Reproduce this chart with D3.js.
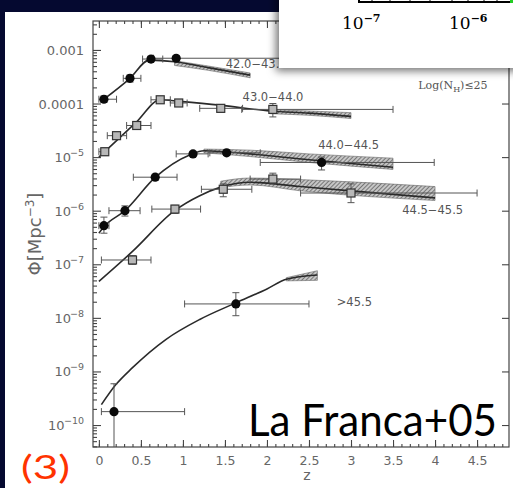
<!DOCTYPE html>
<html>
<head>
<meta charset="utf-8">
<script src="https://cdn.jsdelivr.net/npm/d3@7"></script>
<style>
html, body { margin: 0; padding: 0; background: #050930; }
svg { display: block; }
</style>
</head>
<body>
<svg id="chart" width="513" height="488"></svg>
<script>
// luminosity bins, log10(phi) vs z
const binLabels = ['42.0\u221243.0', '43.0\u221244.0', '44.0\u221244.5', '44.5\u221245.5', '>45.5'];

// 42.0-43.0 (filled circles)
const z1 = [0.06, 0.37, 0.62, 0.92];
const lp1 = [-3.92, -3.53, -3.17, -3.155];
const zlo1 = [0.0, 0.29, 0.52, 0.65];
const zhi1 = [0.21, 0.5, 0.76, 2.3];
const elo1 = [-3.98, -3.6, -3.22, -3.2];
const ehi1 = [-3.86, -3.47, -3.12, -3.11];

// 43.0-44.0 (open squares)
const z2 = [0.07, 0.21, 0.45, 0.73, 0.95, 1.45, 2.07];
const lp2 = [-4.9, -4.6, -4.41, -3.93, -3.99, -4.09, -4.11];
const zlo2 = [0.0, 0.1, 0.33, 0.62, 0.85, 1.2, 1.7];
const zhi2 = [0.1, 0.33, 0.62, 0.85, 1.05, 1.71, 3.5];
const elo2 = [-4.97, -4.66, -4.48, -3.97, -4.05, -4.16, -4.25];
const ehi2 = [-4.83, -4.54, -4.34, -3.89, -3.93, -4.03, -4.0];

// 44.0-44.5 (filled circles)
const z3 = [0.06, 0.31, 0.67, 1.12, 1.52, 2.65];
const lp3 = [-6.28, -6.0, -5.375, -4.94, -4.92, -5.1];
const zlo3 = [0.0, 0.12, 0.41, 0.92, 1.32, 1.92];
const zhi3 = [0.12, 0.49, 0.93, 1.3, 1.92, 3.99];
const elo3 = [-6.42, -6.1, -5.43, -4.98, -4.97, -5.24];
const ehi3 = [-6.12, -5.91, -5.32, -4.9, -4.87, -5.0];

// 44.5-45.5 (open squares)
const z4 = [0.4, 0.905, 1.48, 2.07, 3.0];
const lp4 = [-6.92, -5.97, -5.6, -5.41, -5.67];
const zlo4 = [0.03, 0.63, 1.22, 1.8, 2.4];
const zhi4 = [0.62, 1.21, 1.82, 2.4, 4.5];
const elo4 = [-7.0, -6.05, -5.74, -5.5, -5.85];
const ehi4 = [-6.84, -5.9, -5.5, -5.3, -5.5];

// >45.5 (filled circles)
const z5 = [0.18, 1.63];
const lp5 = [-9.75, -7.74];
const zlo5 = [0.03, 1.02];
const zhi5 = [1.02, 2.5];
const elo5 = [-10.6, -7.96];
const ehi5 = [-9.23, -7.53];

// model curves [z, log phi]
const model1 = [[0.06, -3.92], [0.37, -3.53], [0.6, -3.19], [0.9, -3.22], [1.3, -3.33], [1.8, -3.47]];
const model2 = [[0, -5.0], [0.22, -4.68], [0.45, -4.34], [0.73, -3.93], [0.96, -3.96], [1.44, -4.03], [2.04, -4.14], [2.5, -4.18], [3.0, -4.24]];
const model3 = [[0, -6.42], [0.06, -6.3], [0.31, -6.0], [0.67, -5.38], [1.08, -4.96], [1.25, -4.88], [1.5, -4.9], [1.8, -4.94], [2.5, -5.05], [3.5, -5.19]];
const model4 = [[0, -7.32], [0.4, -6.76], [0.9, -6.0], [1.2, -5.72], [1.45, -5.56], [1.8, -5.47], [2.4, -5.55], [3.0, -5.63], [4.0, -5.76]];
const model5 = [[0.03, -9.62], [0.2, -9.25], [0.4, -8.93], [0.8, -8.4], [1.2, -8.03], [1.63, -7.72], [2.0, -7.46], [2.23, -7.28], [2.6, -7.2]];

// hatched uncertainty bands [z, lo, hi]
const band1 = [[0.9, -3.29, -3.2], [1.3, -3.38, -3.3], [1.8, -3.52, -3.43]];
const band2 = [[2.04, -4.19, -4.11], [2.5, -4.22, -4.14], [3.0, -4.28, -4.17]];
const band3 = [[1.25, -4.92, -4.85], [1.8, -4.99, -4.87], [2.5, -5.1, -4.94], [3.5, -5.23, -5.02]];
const band4 = [[1.45, -5.57, -5.45], [1.8, -5.52, -5.39], [2.4, -5.63, -5.42], [4.0, -5.81, -5.55]];
const band5 = [[2.23, -7.31, -7.25], [2.6, -7.3, -7.12]];

// axis ticks
const xTicks = [0, 0.5, 1, 1.5, 2, 2.5, 3, 3.5, 4, 4.5];
const yDecades = [-3, -4, -5, -6, -7, -8, -9, -10];
const yTickLabels = [['0.001', ''], ['0.0001', ''], ['10', '\u22125'], ['10', '\u22126'], ['10', '\u22127'], ['10', '\u22128'], ['10', '\u22129'], ['10', '\u221210']];

const svg = d3.select('#chart');
const defs = svg.append('defs');

const pat = defs.append('pattern')
    .attr('id', 'hatch')
    .attr('width', 3)
    .attr('height', 3)
    .attr('patternUnits', 'userSpaceOnUse')
    .attr('patternTransform', 'rotate(45)');
pat.append('rect').attr('width', 3).attr('height', 3).attr('fill', '#c6c6c6');
pat.append('line').attr('x1', 0).attr('y1', 0).attr('x2', 0).attr('y2', 3)
    .attr('stroke', '#555').attr('stroke-width', 1.4);

const shadow = defs.append('filter').attr('id', 'shadow')
    .attr('x', '-20%').attr('y', '-20%').attr('width', '140%').attr('height', '160%');
shadow.append('feDropShadow')
    .attr('dx', -3).attr('dy', 3).attr('stdDeviation', 4)
    .attr('flood-color', '#000').attr('flood-opacity', 0.55);

// slide background + white panel
svg.append('rect').attr('width', 513).attr('height', 488).attr('fill', '#050930');
svg.append('rect').attr('x', 5).attr('y', 12).attr('width', 508).attr('height', 476).attr('fill', '#fff');

const x = d3.scaleLinear().domain([-0.07, 4.88]).range([93, 509]);
const y = d3.scaleLog().domain([Math.pow(10, -10.41), Math.pow(10, -2.46)]).range([447, 21]);
const P = (l) => y(Math.pow(10, l));

const axisColor = '#444';
const labelColor = '#666';

// frame
svg.append('rect')
    .attr('x', x.range()[0]).attr('y', y.range()[1])
    .attr('width', x.range()[1] - x.range()[0])
    .attr('height', y.range()[0] - y.range()[1])
    .attr('fill', 'none').attr('stroke', axisColor).attr('stroke-width', 1.2);

// x axes (bottom + top), inward ticks
const xMinor = d3.range(0, 49).map((i) => i / 10);
const styleAxis = (g) => {
    g.select('.domain').remove();
    g.selectAll('line').attr('stroke', axisColor).attr('stroke-width', 1.1);
};
svg.append('g').attr('transform', `translate(0,${y.range()[0]})`)
    .call(d3.axisBottom(x).tickValues(xMinor).tickSize(-3).tickFormat('').tickSizeOuter(0))
    .call(styleAxis);
svg.append('g').attr('transform', `translate(0,${y.range()[0]})`)
    .call(d3.axisBottom(x).tickValues(xTicks).tickSize(-7).tickPadding(9).tickSizeOuter(0)
        .tickFormat((d) => String(d)))
    .call(styleAxis)
    .call((g) => g.selectAll('text')
        .attr('fill', labelColor)
        .style('font-family', 'DejaVu Sans, sans-serif')
        .style('font-size', '12.5px'));
svg.append('g').attr('transform', `translate(0,${y.range()[1]})`)
    .call(d3.axisTop(x).tickValues(xMinor).tickSize(-3).tickFormat('').tickSizeOuter(0))
    .call(styleAxis);
svg.append('g').attr('transform', `translate(0,${y.range()[1]})`)
    .call(d3.axisTop(x).tickValues(xTicks).tickSize(-7).tickFormat('').tickSizeOuter(0))
    .call(styleAxis);

// y axes, log minor ticks on the left
const yMinor = [];
for (let d = -11; d <= -3; d++) {
    for (let k = 2; k <= 9; k++) {
        const v = Math.pow(10, d) * k;
        if (v > y.domain()[0] && v < y.domain()[1]) yMinor.push(v);
    }
}
const yMajorVals = yDecades.map((d) => Math.pow(10, d));
svg.append('g').attr('transform', `translate(${x.range()[0]},0)`)
    .call(d3.axisLeft(y).tickValues(yMinor).tickSize(-4).tickFormat('').tickSizeOuter(0))
    .call(styleAxis);
svg.append('g').attr('transform', `translate(${x.range()[0]},0)`)
    .call(d3.axisLeft(y).tickValues(yMajorVals).tickSize(-8).tickFormat('').tickSizeOuter(0))
    .call(styleAxis);
svg.append('g').attr('transform', `translate(${x.range()[1]},0)`)
    .call(d3.axisRight(y).tickValues(yMajorVals).tickSize(-7).tickFormat('').tickSizeOuter(0))
    .call(styleAxis);

// y tick labels with superscripts
const yl = svg.append('g')
    .style('font-family', 'DejaVu Sans, sans-serif')
    .style('font-size', '13px')
    .attr('fill', labelColor)
    .attr('text-anchor', 'end');
yDecades.forEach((d, i) => {
    const t = yl.append('text').attr('x', 84).attr('y', P(d) + 5);
    const [base, exp] = yTickLabels[i];
    if (exp) {
        t.attr('x', 84 - (exp.length * 6.5));
        t.append('tspan').text(base);
        yl.append('text').attr('x', 84).attr('y', P(d) - 1)
            .style('font-size', '9.5px').text(exp);
    } else {
        t.text(base);
    }
});

// axis titles
svg.append('text')
    .attr('x', 307).attr('y', 480)
    .attr('text-anchor', 'middle')
    .attr('fill', labelColor)
    .style('font-family', 'DejaVu Sans, sans-serif')
    .style('font-size', '14px')
    .text('z');

const yt = svg.append('text')
    .attr('transform', 'translate(41,234) rotate(-90)')
    .attr('text-anchor', 'middle')
    .attr('fill', labelColor)
    .style('font-family', 'DejaVu Sans, sans-serif')
    .style('font-size', '18px');
yt.append('tspan').text('\u03a6[Mpc');
yt.append('tspan').attr('dy', -7).style('font-size', '12px').text('\u22123');
yt.append('tspan').attr('dy', 7).text(']');

// bands and model curves
const area = d3.area()
    .x((d) => x(d[0]))
    .y0((d) => P(d[1]))
    .y1((d) => P(d[2]))
    .curve(d3.curveMonotoneX);
const line = d3.line()
    .x((d) => x(d[0]))
    .y((d) => P(d[1]))
    .curve(d3.curveMonotoneX);

[band1, band2, band3, band4, band5].forEach((b) => {
    svg.append('path').datum(b)
        .attr('d', area)
        .attr('fill', 'url(#hatch)')
        .attr('stroke', '#666')
        .attr('stroke-width', 0.6);
});
[model1, model2, model3, model4, model5].forEach((m) => {
    svg.append('path').datum(m)
        .attr('d', line)
        .attr('fill', 'none')
        .attr('stroke', '#2a2a2a')
        .attr('stroke-width', 1.6);
});

// data points with error bars
const series = [
    { z: z1, lp: lp1, zlo: zlo1, zhi: zhi1, elo: elo1, ehi: ehi1, filled: true },
    { z: z2, lp: lp2, zlo: zlo2, zhi: zhi2, elo: elo2, ehi: ehi2, filled: false },
    { z: z3, lp: lp3, zlo: zlo3, zhi: zhi3, elo: elo3, ehi: ehi3, filled: true },
    { z: z4, lp: lp4, zlo: zlo4, zhi: zhi4, elo: elo4, ehi: ehi4, filled: false },
    { z: z5, lp: lp5, zlo: zlo5, zhi: zhi5, elo: elo5, ehi: ehi5, filled: true }
];

const errColor = '#555';
series.forEach((s) => {
    const g = svg.append('g');
    const pts = s.z.map((z, i) => ({ z, lp: s.lp[i], zlo: s.zlo[i], zhi: s.zhi[i], elo: s.elo[i], ehi: s.ehi[i] }));
    const bars = g.selectAll('g.err').data(pts).enter().append('g').attr('class', 'err')
        .attr('stroke', errColor).attr('stroke-width', 1);
    bars.append('line')
        .attr('x1', (d) => x(d.zlo)).attr('x2', (d) => x(d.zhi))
        .attr('y1', (d) => P(d.lp)).attr('y2', (d) => P(d.lp));
    bars.append('line')
        .attr('x1', (d) => x(d.zlo)).attr('x2', (d) => x(d.zlo))
        .attr('y1', (d) => P(d.lp) - 3.5).attr('y2', (d) => P(d.lp) + 3.5);
    bars.append('line')
        .attr('x1', (d) => x(d.zhi)).attr('x2', (d) => x(d.zhi))
        .attr('y1', (d) => P(d.lp) - 3.5).attr('y2', (d) => P(d.lp) + 3.5);
    bars.append('line')
        .attr('x1', (d) => x(d.z)).attr('x2', (d) => x(d.z))
        .attr('y1', (d) => Math.min(P(d.elo), y.range()[0])).attr('y2', (d) => P(d.ehi));
    bars.append('line')
        .attr('x1', (d) => x(d.z) - 3.5).attr('x2', (d) => x(d.z) + 3.5)
        .attr('y1', (d) => P(d.ehi)).attr('y2', (d) => P(d.ehi));
    bars.filter((d) => P(d.elo) < y.range()[0]).append('line')
        .attr('x1', (d) => x(d.z) - 3.5).attr('x2', (d) => x(d.z) + 3.5)
        .attr('y1', (d) => P(d.elo)).attr('y2', (d) => P(d.elo));

    if (s.filled) {
        g.selectAll('circle').data(pts).enter().append('circle')
            .attr('cx', (d) => x(d.z)).attr('cy', (d) => P(d.lp))
            .attr('r', 4.6).attr('fill', '#0a0a0a');
    } else {
        g.selectAll('rect.pt').data(pts).enter().append('rect').attr('class', 'pt')
            .attr('x', (d) => x(d.z) - 4).attr('y', (d) => P(d.lp) - 4)
            .attr('width', 8).attr('height', 8)
            .attr('fill', '#b8b8b8').attr('stroke', '#333').attr('stroke-width', 1.2);
    }
});

// bin annotations
const annot = [
    { text: binLabels[0], z: 1.51, lp: -3.34 },
    { text: binLabels[1], z: 1.71, lp: -3.95 },
    { text: binLabels[2], z: 2.61, lp: -4.85 },
    { text: binLabels[3], z: 3.61, lp: -6.06 },
    { text: binLabels[4], z: 2.83, lp: -7.78 }
];
svg.append('g')
    .style('font-family', 'DejaVu Sans, sans-serif')
    .style('font-size', '11.5px')
    .attr('fill', '#555')
    .selectAll('text').data(annot).enter().append('text')
    .attr('x', (d) => x(d.z)).attr('y', (d) => P(d.lp))
    .text((d) => d.text);

const nh = svg.append('text')
    .attr('x', x(3.8)).attr('y', P(-3.73))
    .attr('fill', '#555')
    .style('font-family', 'DejaVu Serif, serif')
    .style('font-size', '11px');
nh.append('tspan').text('Log(N');
nh.append('tspan').attr('dy', 3).style('font-size', '8px').text('H');
nh.append('tspan').attr('dy', -3).text(')\u226425');

// inset panel in the top right corner
const inset = svg.append('g');
inset.append('rect')
    .attr('x', 279).attr('y', -20).attr('width', 260).attr('height', 88)
    .attr('fill', '#fff').attr('filter', 'url(#shadow)');
inset.append('line')
    .attr('x1', 358).attr('x2', 513).attr('y1', 2).attr('y2', 2)
    .attr('stroke', '#000').attr('stroke-width', 2.2);
inset.append('line')
    .attr('x1', 359).attr('x2', 359).attr('y1', -2).attr('y2', 3)
    .attr('stroke', '#000').attr('stroke-width', 2);
[372, 390, 410, 430, 452, 468, 484, 497].forEach((px) => {
    inset.append('line')
        .attr('x1', px).attr('x2', px).attr('y1', 0).attr('y2', 2)
        .attr('stroke', '#000').attr('stroke-width', 1);
});
inset.append('rect').attr('x', 510).attr('y', 0).attr('width', 3).attr('height', 3).attr('fill', '#2c2');
[['10', '\u22127', 342], ['10', '\u22126', 449]].forEach(([b, e, px]) => {
    const t = inset.append('text')
        .attr('x', px).attr('y', 29)
        .attr('fill', '#000')
        .style('font-family', 'DejaVu Serif, serif')
        .style('font-size', '17px');
    t.append('tspan').text(b);
    t.append('tspan').attr('dy', -7).style('font-size', '11px').style('font-weight', 'bold').text(e);
});

// slide captions
svg.append('text')
    .attr('x', 248).attr('y', 436)
    .attr('textLength', 249).attr('lengthAdjust', 'spacingAndGlyphs')
    .attr('fill', '#000')
    .style('font-family', 'Lato, sans-serif')
    .style('font-size', '45px')
    .text('La Franca+05');

svg.append('text')
    .attr('x', 21).attr('y', 479)
    .attr('textLength', 49).attr('lengthAdjust', 'spacingAndGlyphs')
    .attr('fill', '#ff3300')
    .style('font-family', 'Lato, sans-serif')
    .style('font-size', '32px')
    .text('(3)');
</script>
</body>
</html>
